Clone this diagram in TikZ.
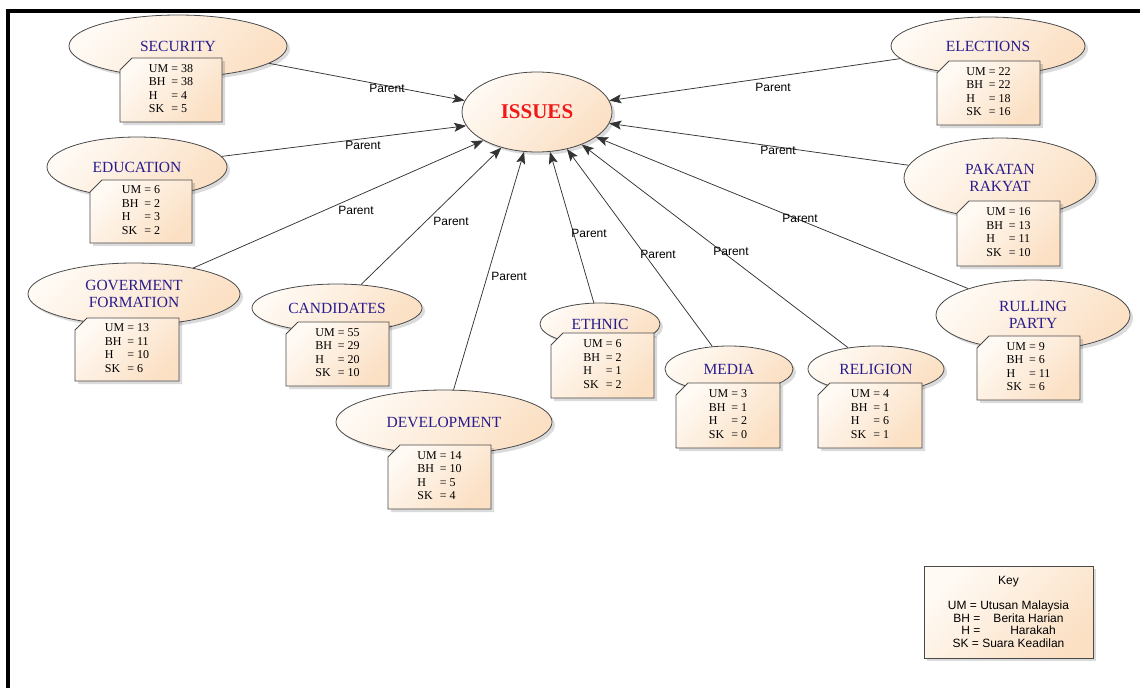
\documentclass[tikz,border=0pt]{standalone}
\usepackage{fontspec}
\setmainfont{Liberation Serif}
\newfontfamily\sansf{Liberation Sans}
\usetikzlibrary{shapes.geometric,arrows.meta,shadows}
\definecolor{peachT}{HTML}{FFFAF4}
\definecolor{peachB}{HTML}{FBE0C4}
\definecolor{bordc}{HTML}{4A4A4A}
\definecolor{labc}{RGB}{40,28,140}
\definecolor{linec}{HTML}{333333}
\definecolor{issuec}{HTML}{F01818}
\tikzset{
  shade box/.style={top color=peachT, bottom color=peachB, shading angle=45},
  softshadow/.style={drop shadow={opacity=0.14, fill=black, shadow xshift=3pt, shadow yshift=-3pt}},
  topic/.style 2 args={ellipse, draw=bordc, line width=0.8pt, shade box, softshadow,
    minimum width=#1, minimum height=#2, inner sep=0pt, text=labc,
    font=\fontsize{15.5}{17}\selectfont, align=center},
  notebg/.style={draw=bordc, line width=0.8pt, shade box, softshadow},
  notetxt/.style={inner sep=0pt, font=\fontsize{12}{13.5}\selectfont},
  conn/.style={draw=linec, line width=0.75pt, -{Stealth[length=12pt,width=9pt,inset=2.5pt]}},
  lbl/.style={font=\sansf\fontsize{12}{14}\selectfont, inner sep=0pt},
}
\newcommand\notebox[9]{%
  \path[notebg] ({#2},{#3+12}) -- ({#2+12},{#3}) -- ({#4},{#3}) -- ({#4},{#5}) -- ({#2},{#5}) -- cycle;
  \node[notetxt] (#1) at ({(#2+#4)/2},{(#3+#5)/2})
    {\begin{tabular}{@{}l@{\ }l@{}}UM &= #6\\ BH &= #7\\ H &= #8\\ SK &= #9\end{tabular}};%
}
\begin{document}
\begin{tikzpicture}[x=1pt,y=-1pt]
\useasboundingbox (0,0) rectangle (1140,688);
\draw[line width=4pt, line join=miter] (8,688) -- (8,11) -- (1140,11);

% topic ellipses
\node[topic={150}{80}, text=issuec, font=\bfseries\fontsize{21}{23}\selectfont] (issues) at (537,112) {ISSUES};
\node[topic={218}{62}] (sec) at (178,46) {SECURITY};
\node[topic={194}{58}] (ele) at (988,46) {ELECTIONS};
\node[topic={180}{60}] (edu) at (137,167) {EDUCATION};
\node[topic={192}{80}] (pak) at (1000,178) {PAKATAN\\RAKYAT};
\node[topic={212}{62}] (gov) at (134,294) {GOVERMENT\\FORMATION};
\node[topic={170}{48}] (can) at (337,308) {CANDIDATES};
\node[topic={216}{64}] (dev) at (444,422) {DEVELOPMENT};
\node[topic={120}{42}] (eth) at (600,324) {ETHNIC};
\node[topic={128}{46}] (med) at (729,369) {MEDIA};
\node[topic={136}{46}] (rel) at (876,369) {RELIGION};
\node[topic={194}{70}] (rul) at (1033,315) {RULLING\\PARTY};

% connectors
\draw[conn] (sec) -- (issues.171);
\draw[conn] (edu) -- (issues.191);
\draw[conn] (gov) -- (issues.208);
\draw[conn] (can) -- (issues.225);
\draw[conn] (dev) -- (issues.252);
\draw[conn] (eth) -- (issues.288);
\draw[conn] (med) -- (issues.309);
\draw[conn] (rel) -- (issues.324);
\draw[conn] (rul) -- (issues.337);
\draw[conn] (pak) -- (issues.351);
\draw[conn] (ele) -- (issues.9);

% connector labels
\node[lbl] (lsec) at (387,88) {Parent};
\node[lbl] (lele) at (773,87) {Parent};
\node[lbl] (ledu) at (363,145) {Parent};
\node[lbl] (lpak) at (778,150) {Parent};
\node[lbl] (lgov) at (356,210) {Parent};
\node[lbl] (lrul) at (800,218) {Parent};
\node[lbl] (lcan) at (451,221) {Parent};
\node[lbl] (ldev) at (509,276) {Parent};
\node[lbl] (leth) at (589,233) {Parent};
\node[lbl] (lmed) at (658,254) {Parent};
\node[lbl] (lrel) at (731,251) {Parent};

% notes
\notebox{secN}{120}{58}{222}{122}{38}{38}{4}{5}
\notebox{eleN}{937}{61}{1040}{125}{22}{22}{18}{16}
\notebox{eduN}{90}{180}{192}{243}{6}{2}{3}{2}
\notebox{pakN}{957}{201}{1060}{266}{16}{13}{11}{10}
\notebox{govN}{75}{318}{179}{381}{13}{11}{10}{6}
\notebox{canN}{286}{322}{389}{386}{55}{29}{20}{10}
\notebox{devN}{388}{445}{491}{509}{14}{10}{5}{4}
\notebox{ethN}{551}{333}{654}{398}{6}{2}{1}{2}
\notebox{medN}{676}{383}{780}{448}{3}{1}{2}{0}
\notebox{relN}{818}{383}{922}{448}{4}{1}{6}{1}
\notebox{rulN}{977}{336}{1080}{400}{9}{6}{11}{6}

% key
\node[draw=bordc, line width=0.8pt, shade box, softshadow, minimum width=169pt, minimum height=92pt,
  align=center, inner sep=0pt, font=\sansf\fontsize{12}{12.5}\selectfont] (key) at (1008.5,612)
  {Key\\[12.5pt]UM = Utusan Malaysia\\BH =\hspace{13pt}Berita Harian\\H =\hspace{30pt}Harakah\\SK = Suara Keadilan};
\end{tikzpicture}
\end{document}
